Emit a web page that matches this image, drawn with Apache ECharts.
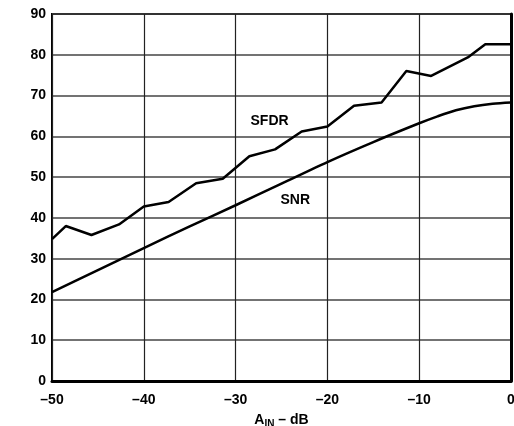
<!DOCTYPE html>
<html>
<head>
<meta charset="utf-8">
<script src="https://cdn.jsdelivr.net/npm/echarts@6/dist/echarts.min.js"></script>
<style>html,body{margin:0;padding:0;background:#fff}#c{width:514px;height:426px}</style>
</head>
<body>
<div id="c"></div>
<script>
const sfdrX = [-50, -48.5, -45.7, -42.7, -40, -37.3, -34.3, -31.4, -28.5, -25.7, -22.8, -20, -17.1, -14.1, -11.4, -8.7, -4.6, -2.8, 0];
const sfdrY = [34.8, 38, 35.8, 38.4, 42.8, 43.9, 48.5, 49.6, 55.1, 56.8, 61.2, 62.4, 67.5, 68.3, 76, 74.8, 79.5, 82.6, 82.6];
const snrX = [-50, -45, -40, -35, -30, -25, -20, -15, -10, -8, -6, -4, -2, 0];
const snrY = [21.8, 27.2, 32.6, 37.9, 43.1, 48.4, 53.7, 58.6, 63.2, 64.9, 66.4, 67.4, 68.0, 68.3];
const labelSFDR = {name: 'SFDR', x: -26.3, y: 63.7};
const labelSNR = {name: 'SNR', x: -23.5, y: 44.4};
const xTitle = 'A{sub|IN} – dB';

const font = 'Liberation Sans, Arial, sans-serif';
const chart = echarts.init(document.getElementById('c'), null, {renderer: 'canvas'});
function pts(xs, ys) { return xs.map((x, i) => [x, ys[i]]); }
function mp(l) {
  return {
    symbol: 'circle', symbolSize: 0,
    label: {show: true, position: 'inside', formatter: l.name, color: '#000', fontWeight: 'bold', fontSize: 14, fontFamily: font},
    data: [{coord: [l.x, l.y]}]
  };
}
chart.setOption({
  animation: false,
  grid: {left: 52, right: 3, top: 14, bottom: 45, containLabel: false, outerBoundsMode: 'none',
    show: true, borderColor: '#000', borderWidth: 2, backgroundColor: 'transparent'},
  xAxis: {
    type: 'value', min: -50, max: 0, interval: 10,
    axisLine: {show: true, onZero: false, lineStyle: {color: '#000', width: 3}},
    axisTick: {show: false},
    splitLine: {show: true, lineStyle: {color: '#222', width: 1.2}},
    axisLabel: {color: '#000', fontWeight: 'bold', fontSize: 14, fontFamily: font, margin: 12,
      formatter: v => String(v).replace('-', '–')},
    name: xTitle, nameLocation: 'middle', nameGap: 31,
    nameTextStyle: {color: '#000', fontWeight: 'bold', fontSize: 14, fontFamily: font,
      rich: {sub: {fontSize: 10, fontWeight: 'bold', fontFamily: font, verticalAlign: 'bottom', padding: [7, 0, 0, 0], color: '#000'}}}
  },
  yAxis: {
    type: 'value', min: 0, max: 90, interval: 10,
    axisLine: {show: true, lineStyle: {color: '#000', width: 3}},
    axisTick: {show: false},
    splitLine: {show: true, lineStyle: {color: '#444', width: 1.5}},
    axisLabel: {color: '#000', fontWeight: 'bold', fontSize: 14, fontFamily: font, margin: 6}
  },
  series: [
    {type: 'line', data: pts(sfdrX, sfdrY), showSymbol: false, lineStyle: {color: '#000', width: 2.5}, markPoint: mp(labelSFDR)},
    {type: 'line', data: pts(snrX, snrY), showSymbol: false, smooth: 0.3, lineStyle: {color: '#000', width: 2.5}, markPoint: mp(labelSNR)}
  ]
});
</script>
</body>
</html>
